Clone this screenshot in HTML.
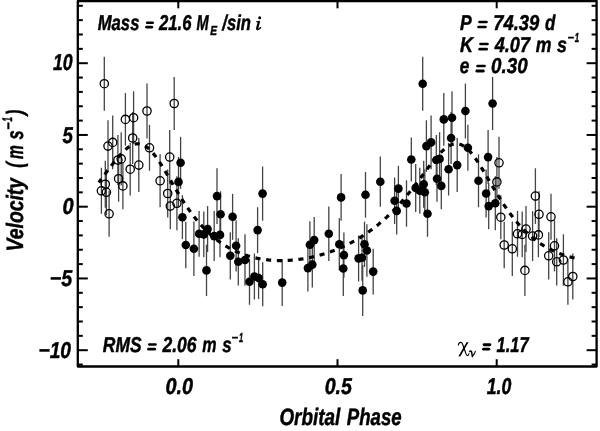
<!DOCTYPE html><html><head><meta charset="utf-8"><style>html,body{margin:0;padding:0;background:#fff;width:600px;height:431px;overflow:hidden}svg{display:block;filter:grayscale(1)}text{text-rendering:geometricPrecision}</style></head><body>
<svg width="600" height="431" viewBox="0 0 600 431">
<rect width="600" height="431" fill="#fff"/>
<g stroke="#444444" stroke-width="1.3">
<line x1="180.6" y1="136.8" x2="180.6" y2="188.8"/>
<line x1="178.5" y1="156.9" x2="178.5" y2="206.9"/>
<line x1="182.4" y1="195.2" x2="182.4" y2="239.2"/>
<line x1="185.8" y1="221.7" x2="185.8" y2="268.3"/>
<line x1="193.9" y1="221.6" x2="193.9" y2="276.0"/>
<line x1="199.1" y1="210.9" x2="199.1" y2="256.7"/>
<line x1="203.8" y1="211.6" x2="203.8" y2="257.2"/>
<line x1="207.6" y1="206.1" x2="207.6" y2="252.1"/>
<line x1="206.5" y1="244.7" x2="206.5" y2="296.1"/>
<line x1="214.2" y1="211.1" x2="214.2" y2="261.1"/>
<line x1="217.0" y1="168.3" x2="217.0" y2="223.9"/>
<line x1="220.6" y1="191.3" x2="220.6" y2="237.3"/>
<line x1="220.0" y1="212.6" x2="220.0" y2="257.2"/>
<line x1="230.3" y1="232.2" x2="230.3" y2="279.4"/>
<line x1="232.6" y1="193.8" x2="232.6" y2="239.8"/>
<line x1="236.1" y1="220.2" x2="236.1" y2="271.4"/>
<line x1="238.3" y1="238.2" x2="238.3" y2="285.4"/>
<line x1="245.0" y1="234.3" x2="245.0" y2="285.7"/>
<line x1="249.5" y1="258.8" x2="249.5" y2="304.8"/>
<line x1="254.4" y1="253.5" x2="254.4" y2="299.5"/>
<line x1="257.6" y1="207.2" x2="257.6" y2="253.0"/>
<line x1="258.6" y1="257.0" x2="258.6" y2="299.0"/>
<line x1="262.6" y1="166.5" x2="262.6" y2="220.7"/>
<line x1="262.7" y1="262.3" x2="262.7" y2="306.3"/>
<line x1="282.2" y1="259.1" x2="282.2" y2="306.1"/>
<line x1="307.9" y1="244.7" x2="307.9" y2="291.5"/>
<line x1="309.9" y1="221.2" x2="309.9" y2="268.4"/>
<line x1="312.3" y1="241.6" x2="312.3" y2="287.6"/>
<line x1="314.2" y1="217.0" x2="314.2" y2="263.2"/>
<line x1="328.8" y1="206.4" x2="328.8" y2="261.0"/>
<line x1="339.3" y1="218.3" x2="339.3" y2="270.3"/>
<line x1="341.1" y1="174.0" x2="341.1" y2="220.8"/>
<line x1="343.3" y1="241.0" x2="343.3" y2="296.0"/>
<line x1="343.9" y1="232.4" x2="343.9" y2="277.8"/>
<line x1="358.6" y1="235.4" x2="358.6" y2="281.4"/>
<line x1="362.0" y1="234.7" x2="362.0" y2="280.7"/>
<line x1="362.7" y1="264.9" x2="362.7" y2="315.9"/>
<line x1="364.5" y1="221.6" x2="364.5" y2="267.0"/>
<line x1="365.5" y1="171.9" x2="365.5" y2="217.7"/>
<line x1="366.9" y1="224.2" x2="366.9" y2="276.8"/>
<line x1="373.2" y1="248.8" x2="373.2" y2="294.4"/>
<line x1="380.3" y1="156.6" x2="380.3" y2="206.8"/>
<line x1="394.6" y1="177.5" x2="394.6" y2="223.9"/>
<line x1="396.7" y1="187.3" x2="396.7" y2="234.5"/>
<line x1="398.4" y1="165.8" x2="398.4" y2="211.4"/>
<line x1="406.5" y1="180.3" x2="406.5" y2="226.7"/>
<line x1="411.3" y1="137.5" x2="411.3" y2="181.5"/>
<line x1="415.7" y1="163.9" x2="415.7" y2="211.9"/>
<line x1="419.8" y1="167.8" x2="419.8" y2="213.8"/>
<line x1="423.7" y1="160.7" x2="423.7" y2="207.7"/>
<line x1="424.8" y1="169.3" x2="424.8" y2="215.3"/>
<line x1="427.5" y1="190.8" x2="427.5" y2="236.8"/>
<line x1="422.7" y1="56.7" x2="422.7" y2="110.7"/>
<line x1="426.4" y1="120.3" x2="426.4" y2="171.9"/>
<line x1="431.1" y1="115.6" x2="431.1" y2="169.2"/>
<line x1="436.3" y1="135.0" x2="436.3" y2="185.0"/>
<line x1="439.6" y1="132.2" x2="439.6" y2="185.6"/>
<line x1="437.0" y1="155.7" x2="437.0" y2="201.7"/>
<line x1="441.3" y1="162.6" x2="441.3" y2="209.2"/>
<line x1="443.8" y1="93.1" x2="443.8" y2="145.7"/>
<line x1="452.0" y1="91.3" x2="452.0" y2="144.1"/>
<line x1="451.1" y1="112.0" x2="451.1" y2="164.0"/>
<line x1="448.6" y1="142.9" x2="448.6" y2="195.5"/>
<line x1="457.2" y1="138.1" x2="457.2" y2="192.1"/>
<line x1="465.4" y1="83.5" x2="465.4" y2="138.5"/>
<line x1="467.9" y1="124.8" x2="467.9" y2="170.8"/>
<line x1="478.5" y1="154.3" x2="478.5" y2="207.3"/>
<line x1="488.1" y1="130.1" x2="488.1" y2="184.1"/>
<line x1="492.6" y1="76.9" x2="492.6" y2="130.1"/>
<line x1="486.1" y1="169.5" x2="486.1" y2="217.5"/>
<line x1="488.7" y1="182.9" x2="488.7" y2="229.3"/>
<line x1="495.3" y1="176.3" x2="495.3" y2="230.3"/>
<line x1="499.0" y1="136.8" x2="499.0" y2="188.8"/>
<line x1="496.9" y1="156.9" x2="496.9" y2="206.9"/>
<line x1="500.8" y1="195.2" x2="500.8" y2="239.2"/>
<line x1="504.2" y1="221.7" x2="504.2" y2="268.3"/>
<line x1="512.3" y1="221.6" x2="512.3" y2="276.0"/>
<line x1="517.5" y1="210.9" x2="517.5" y2="256.7"/>
<line x1="522.2" y1="211.6" x2="522.2" y2="257.2"/>
<line x1="526.0" y1="206.1" x2="526.0" y2="252.1"/>
<line x1="524.9" y1="244.7" x2="524.9" y2="296.1"/>
<line x1="532.6" y1="211.1" x2="532.6" y2="261.1"/>
<line x1="535.4" y1="168.3" x2="535.4" y2="223.9"/>
<line x1="539.0" y1="191.3" x2="539.0" y2="237.3"/>
<line x1="538.4" y1="212.6" x2="538.4" y2="257.2"/>
<line x1="548.7" y1="232.2" x2="548.7" y2="279.4"/>
<line x1="551.0" y1="193.8" x2="551.0" y2="239.8"/>
<line x1="554.5" y1="220.2" x2="554.5" y2="271.4"/>
<line x1="556.7" y1="238.2" x2="556.7" y2="285.4"/>
<line x1="563.4" y1="234.3" x2="563.4" y2="285.7"/>
<line x1="567.9" y1="258.8" x2="567.9" y2="304.8"/>
<line x1="572.8" y1="253.5" x2="572.8" y2="299.5"/>
<line x1="101.4" y1="167.8" x2="101.4" y2="213.8"/>
<line x1="105.3" y1="160.7" x2="105.3" y2="207.7"/>
<line x1="106.4" y1="169.3" x2="106.4" y2="215.3"/>
<line x1="109.1" y1="190.8" x2="109.1" y2="236.8"/>
<line x1="104.3" y1="56.7" x2="104.3" y2="110.7"/>
<line x1="108.0" y1="120.3" x2="108.0" y2="171.9"/>
<line x1="112.7" y1="115.6" x2="112.7" y2="169.2"/>
<line x1="117.9" y1="135.0" x2="117.9" y2="185.0"/>
<line x1="121.2" y1="132.2" x2="121.2" y2="185.6"/>
<line x1="118.6" y1="155.7" x2="118.6" y2="201.7"/>
<line x1="122.9" y1="162.6" x2="122.9" y2="209.2"/>
<line x1="125.4" y1="93.1" x2="125.4" y2="145.7"/>
<line x1="133.6" y1="91.3" x2="133.6" y2="144.1"/>
<line x1="132.7" y1="112.0" x2="132.7" y2="164.0"/>
<line x1="130.2" y1="142.9" x2="130.2" y2="195.5"/>
<line x1="138.8" y1="138.1" x2="138.8" y2="192.1"/>
<line x1="147.0" y1="83.5" x2="147.0" y2="138.5"/>
<line x1="149.5" y1="124.8" x2="149.5" y2="170.8"/>
<line x1="160.1" y1="154.3" x2="160.1" y2="207.3"/>
<line x1="169.7" y1="130.1" x2="169.7" y2="184.1"/>
<line x1="174.2" y1="76.9" x2="174.2" y2="130.1"/>
<line x1="167.7" y1="169.5" x2="167.7" y2="217.5"/>
<line x1="170.3" y1="182.9" x2="170.3" y2="229.3"/>
<line x1="176.9" y1="176.3" x2="176.9" y2="230.3"/>
</g>
<polyline points="98.70,182.54 99.02,182.12 99.34,181.70 99.66,181.28 99.97,180.86 100.29,180.43 100.61,180.01 100.93,179.59 101.25,179.16 101.57,178.74 101.89,178.31 102.20,177.89 102.52,177.46 102.84,177.04 103.16,176.61 103.48,176.19 103.80,175.76 104.12,175.33 104.44,174.90 104.75,174.48 105.07,174.05 105.39,173.62 105.71,173.20 106.03,172.77 106.35,172.34 106.67,171.92 106.98,171.49 107.30,171.07 107.62,170.64 107.94,170.21 108.26,169.79 108.58,169.37 108.90,168.94 109.21,168.52 109.53,168.10 109.85,167.68 110.17,167.26 110.49,166.84 110.81,166.42 111.13,166.00 111.44,165.59 111.76,165.17 112.08,164.76 112.40,164.35 112.72,163.93 113.04,163.53 113.36,163.12 113.67,162.71 113.99,162.31 114.31,161.90 114.63,161.50 114.95,161.10 115.27,160.71 115.59,160.31 115.91,159.92 116.22,159.53 116.54,159.14 116.86,158.76 117.18,158.37 117.50,157.99 117.82,157.62 118.14,157.24 118.45,156.87 118.77,156.50 119.09,156.14 119.41,155.78 119.73,155.42 120.05,155.06 120.37,154.71 120.68,154.36 121.00,154.02 121.32,153.68 121.64,153.34 121.96,153.01 122.28,152.68 122.60,152.35 122.91,152.03 123.23,151.72 123.55,151.41 123.87,151.10 124.19,150.80 124.51,150.50 124.83,150.21 125.14,149.93 125.46,149.64 125.78,149.37 126.10,149.10 126.42,148.83 126.74,148.57 127.06,148.32 127.38,148.07 127.69,147.83 128.01,147.59 128.33,147.36 128.65,147.14 128.97,146.92 129.29,146.71 129.61,146.51 129.92,146.31 130.24,146.12 130.56,145.93 130.88,145.76 131.20,145.59 131.52,145.42 131.84,145.27 132.15,145.12 132.47,144.98 132.79,144.84 133.11,144.72 133.43,144.60 133.75,144.49 134.07,144.38 134.38,144.29 134.70,144.20 135.02,144.12 135.34,144.05 135.66,143.99 135.98,143.93 136.30,143.88 136.61,143.84 136.93,143.81 137.25,143.79 137.57,143.78 137.89,143.77 138.21,143.77 138.53,143.79 138.85,143.81 139.16,143.84 139.48,143.87 139.80,143.92 140.12,143.97 140.44,144.04 140.76,144.11 141.08,144.19 141.39,144.28 141.71,144.38 142.03,144.48 142.35,144.60 142.67,144.72 142.99,144.85 143.31,145.00 143.62,145.15 143.94,145.30 144.26,145.47 144.58,145.65 144.90,145.83 145.22,146.02 145.54,146.22 145.85,146.43 146.17,146.65 146.49,146.88 146.81,147.11 147.13,147.35 147.45,147.60 147.77,147.86 148.08,148.12 148.40,148.40 148.72,148.68 149.04,148.97 149.36,149.26 149.68,149.57 150.00,149.88 150.32,150.20 150.63,150.53 150.95,150.86 151.27,151.20 151.59,151.55 151.91,151.90 152.23,152.26 152.55,152.63 152.86,153.00 153.18,153.38 153.50,153.77 153.82,154.16 154.14,154.56 154.46,154.97 154.78,155.38 155.09,155.79 155.41,156.21 155.73,156.64 156.05,157.07 156.37,157.51 156.69,157.95 157.01,158.40 157.32,158.85 157.64,159.31 157.96,159.77 158.28,160.24 158.60,160.71 158.92,161.18 159.24,161.66 159.55,162.15 159.87,162.63 160.19,163.12 160.51,163.62 160.83,164.11 161.15,164.61 161.47,165.12 161.79,165.62 162.10,166.13 162.42,166.64 162.74,167.16 163.06,167.68 163.38,168.20 163.70,168.72 164.02,169.24 164.33,169.77 164.65,170.30 164.97,170.83 165.29,171.36 165.61,171.89 165.93,172.43 166.25,172.97 166.56,173.50 166.88,174.04 167.20,174.58 167.52,175.12 167.84,175.66 168.16,176.21 168.48,176.75 168.79,177.29 169.11,177.84 169.43,178.38 169.75,178.93 170.07,179.47 170.39,180.02 170.71,180.56 171.03,181.11 171.34,181.65 171.66,182.20 171.98,182.74 172.30,183.29 172.62,183.83 172.94,184.37 173.26,184.92 173.57,185.46 173.89,186.00 174.21,186.54 174.53,187.08 174.85,187.62 175.17,188.16 175.49,188.69 175.80,189.23 176.12,189.76 176.44,190.29 176.76,190.83 177.08,191.36 177.40,191.88 177.72,192.41 178.03,192.94 178.35,193.46 178.67,193.98 178.99,194.50 179.31,195.02 179.63,195.54 179.95,196.06 180.26,196.57 180.58,197.08 180.90,197.59 181.22,198.10 181.54,198.60 181.86,199.11 182.18,199.61 182.50,200.11 182.81,200.61 183.13,201.10 183.45,201.60 183.77,202.09 184.09,202.58 184.41,203.06 184.73,203.55 185.04,204.03 185.36,204.51 185.68,204.99 186.00,205.46 186.32,205.94 186.64,206.41 186.96,206.87 187.27,207.34 187.59,207.80 187.91,208.26 188.23,208.72 188.55,209.18 188.87,209.63 189.19,210.08 189.50,210.53 189.82,210.98 190.14,211.42 190.46,211.86 190.78,212.30 191.10,212.74 191.42,213.17 191.73,213.60 192.05,214.03 192.37,214.46 192.69,214.88 193.01,215.30 193.33,215.72 193.65,216.13 193.97,216.55 194.28,216.96 194.60,217.37 194.92,217.77 195.24,218.17 195.56,218.57 195.88,218.97 196.20,219.37 196.51,219.76 196.83,220.15 197.15,220.54 197.47,220.92 197.79,221.30 198.11,221.68 198.43,222.06 198.74,222.44 199.06,222.81 199.38,223.18 199.70,223.55 200.02,223.91 200.34,224.27 200.66,224.63 200.97,224.99 201.29,225.35 201.61,225.70 201.93,226.05 202.25,226.40 202.57,226.74 202.89,227.09 203.20,227.43 203.52,227.76 203.84,228.10 204.16,228.43 204.48,228.76 204.80,229.09 205.12,229.42 205.44,229.74 205.75,230.06 206.07,230.38 206.39,230.70 206.71,231.01 207.03,231.33 207.35,231.64 207.67,231.94 207.98,232.25 208.30,232.55 208.62,232.85 208.94,233.15 209.26,233.45 209.58,233.74 209.90,234.03 210.21,234.32 210.53,234.61 210.85,234.89 211.17,235.18 211.49,235.46 211.81,235.74 212.13,236.01 212.44,236.29 212.76,236.56 213.08,236.83 213.40,237.10 213.72,237.36 214.04,237.63 214.36,237.89 214.67,238.15 214.99,238.41 215.31,238.66 215.63,238.92 215.95,239.17 216.27,239.42 216.59,239.66 216.91,239.91 217.22,240.15 217.54,240.40 217.86,240.63 218.18,240.87 218.50,241.11 218.82,241.34 219.14,241.57 219.45,241.80 219.77,242.03 220.09,242.26 220.41,242.48 220.73,242.71 221.05,242.93 221.37,243.15 221.68,243.36 222.00,243.58 222.32,243.79 222.64,244.00 222.96,244.21 223.28,244.42 223.60,244.63 223.91,244.83 224.23,245.04 224.55,245.24 224.87,245.44 225.19,245.64 225.51,245.83 225.83,246.03 226.14,246.22 226.46,246.41 226.78,246.60 227.10,246.79 227.42,246.97 227.74,247.16 228.06,247.34 228.38,247.52 228.69,247.70 229.01,247.88 229.33,248.05 229.65,248.23 229.97,248.40 230.29,248.57 230.61,248.74 230.92,248.91 231.24,249.08 231.56,249.25 231.88,249.41 232.20,249.57 232.52,249.73 232.84,249.89 233.15,250.05 233.47,250.21 233.79,250.36 234.11,250.52 234.43,250.67 234.75,250.82 235.07,250.97 235.38,251.12 235.70,251.26 236.02,251.41 236.34,251.55 236.66,251.69 236.98,251.83 237.30,251.97 237.62,252.11 237.93,252.25 238.25,252.38 238.57,252.52 238.89,252.65 239.21,252.78 239.53,252.91 239.85,253.04 240.16,253.17 240.48,253.29 240.80,253.42 241.12,253.54 241.44,253.66 241.76,253.78 242.08,253.90 242.39,254.02 242.71,254.14 243.03,254.25 243.35,254.37 243.67,254.48 243.99,254.59 244.31,254.71 244.62,254.82 244.94,254.92 245.26,255.03 245.58,255.14 245.90,255.24 246.22,255.35 246.54,255.45 246.85,255.55 247.17,255.65 247.49,255.75 247.81,255.85 248.13,255.94 248.45,256.04 248.77,256.13 249.09,256.23 249.40,256.32 249.72,256.41 250.04,256.50 250.36,256.59 250.68,256.67 251.00,256.76 251.32,256.85 251.63,256.93 251.95,257.01 252.27,257.10 252.59,257.18 252.91,257.26 253.23,257.34 253.55,257.41 253.86,257.49 254.18,257.57 254.50,257.64 254.82,257.71 255.14,257.79 255.46,257.86 255.78,257.93 256.09,258.00 256.41,258.07 256.73,258.14 257.05,258.20 257.37,258.27 257.69,258.33 258.01,258.39 258.32,258.46 258.64,258.52 258.96,258.58 259.28,258.64 259.60,258.70 259.92,258.76 260.24,258.81 260.56,258.87 260.87,258.92 261.19,258.98 261.51,259.03 261.83,259.08 262.15,259.13 262.47,259.18 262.79,259.23 263.10,259.28 263.42,259.33 263.74,259.37 264.06,259.42 264.38,259.46 264.70,259.51 265.02,259.55 265.33,259.59 265.65,259.63 265.97,259.67 266.29,259.71 266.61,259.75 266.93,259.78 267.25,259.82 267.56,259.86 267.88,259.89 268.20,259.92 268.52,259.96 268.84,259.99 269.16,260.02 269.48,260.05 269.79,260.08 270.11,260.11 270.43,260.13 270.75,260.16 271.07,260.19 271.39,260.21 271.71,260.24 272.03,260.26 272.34,260.28 272.66,260.30 272.98,260.32 273.30,260.34 273.62,260.36 273.94,260.38 274.26,260.40 274.57,260.42 274.89,260.43 275.21,260.45 275.53,260.46 275.85,260.48 276.17,260.49 276.49,260.50 276.80,260.51 277.12,260.52 277.44,260.53 277.76,260.54 278.08,260.55 278.40,260.55 278.72,260.56 279.03,260.56 279.35,260.57 279.67,260.57 279.99,260.58 280.31,260.58 280.63,260.58 280.95,260.58 281.26,260.58 281.58,260.58 281.90,260.58 282.22,260.58 282.54,260.57 282.86,260.57 283.18,260.56 283.50,260.56 283.81,260.55 284.13,260.54 284.45,260.54 284.77,260.53 285.09,260.52 285.41,260.51 285.73,260.50 286.04,260.49 286.36,260.47 286.68,260.46 287.00,260.45 287.32,260.43 287.64,260.42 287.96,260.40 288.27,260.38 288.59,260.37 288.91,260.35 289.23,260.33 289.55,260.31 289.87,260.29 290.19,260.27 290.50,260.25 290.82,260.22 291.14,260.20 291.46,260.18 291.78,260.15 292.10,260.13 292.42,260.10 292.73,260.07 293.05,260.04 293.37,260.02 293.69,259.99 294.01,259.96 294.33,259.93 294.65,259.89 294.97,259.86 295.28,259.83 295.60,259.80 295.92,259.76 296.24,259.73 296.56,259.69 296.88,259.65 297.20,259.62 297.51,259.58 297.83,259.54 298.15,259.50 298.47,259.46 298.79,259.42 299.11,259.38 299.43,259.34 299.74,259.29 300.06,259.25 300.38,259.20 300.70,259.16 301.02,259.11 301.34,259.07 301.66,259.02 301.97,258.97 302.29,258.92 302.61,258.87 302.93,258.82 303.25,258.77 303.57,258.72 303.89,258.67 304.21,258.62 304.52,258.56 304.84,258.51 305.16,258.45 305.48,258.40 305.80,258.34 306.12,258.28 306.44,258.23 306.75,258.17 307.07,258.11 307.39,258.05 307.71,257.99 308.03,257.92 308.35,257.86 308.67,257.80 308.98,257.74 309.30,257.67 309.62,257.61 309.94,257.54 310.26,257.47 310.58,257.41 310.90,257.34 311.21,257.27 311.53,257.20 311.85,257.13 312.17,257.06 312.49,256.99 312.81,256.92 313.13,256.84 313.44,256.77 313.76,256.70 314.08,256.62 314.40,256.55 314.72,256.47 315.04,256.39 315.36,256.31 315.68,256.23 315.99,256.16 316.31,256.08 316.63,255.99 316.95,255.91 317.27,255.83 317.59,255.75 317.91,255.66 318.22,255.58 318.54,255.49 318.86,255.41 319.18,255.32 319.50,255.23 319.82,255.15 320.14,255.06 320.45,254.97 320.77,254.88 321.09,254.79 321.41,254.69 321.73,254.60 322.05,254.51 322.37,254.41 322.68,254.32 323.00,254.22 323.32,254.13 323.64,254.03 323.96,253.93 324.28,253.83 324.60,253.73 324.91,253.63 325.23,253.53 325.55,253.43 325.87,253.33 326.19,253.23 326.51,253.12 326.83,253.02 327.15,252.91 327.46,252.81 327.78,252.70 328.10,252.59 328.42,252.48 328.74,252.38 329.06,252.27 329.38,252.15 329.69,252.04 330.01,251.93 330.33,251.82 330.65,251.70 330.97,251.59 331.29,251.47 331.61,251.36 331.92,251.24 332.24,251.12 332.56,251.01 332.88,250.89 333.20,250.77 333.52,250.65 333.84,250.52 334.15,250.40 334.47,250.28 334.79,250.15 335.11,250.03 335.43,249.90 335.75,249.78 336.07,249.65 336.38,249.52 336.70,249.39 337.02,249.26 337.34,249.13 337.66,249.00 337.98,248.87 338.30,248.74 338.62,248.60 338.93,248.47 339.25,248.33 339.57,248.20 339.89,248.06 340.21,247.92 340.53,247.78 340.85,247.64 341.16,247.50 341.48,247.36 341.80,247.22 342.12,247.07 342.44,246.93 342.76,246.79 343.08,246.64 343.39,246.49 343.71,246.35 344.03,246.20 344.35,246.05 344.67,245.90 344.99,245.75 345.31,245.60 345.62,245.44 345.94,245.29 346.26,245.14 346.58,244.98 346.90,244.82 347.22,244.67 347.54,244.51 347.85,244.35 348.17,244.19 348.49,244.03 348.81,243.87 349.13,243.71 349.45,243.54 349.77,243.38 350.09,243.21 350.40,243.05 350.72,242.88 351.04,242.71 351.36,242.54 351.68,242.37 352.00,242.20 352.32,242.03 352.63,241.86 352.95,241.68 353.27,241.51 353.59,241.33 353.91,241.16 354.23,240.98 354.55,240.80 354.86,240.62 355.18,240.44 355.50,240.26 355.82,240.08 356.14,239.89 356.46,239.71 356.78,239.52 357.09,239.34 357.41,239.15 357.73,238.96 358.05,238.77 358.37,238.58 358.69,238.39 359.01,238.20 359.32,238.00 359.64,237.81 359.96,237.61 360.28,237.42 360.60,237.22 360.92,237.02 361.24,236.82 361.56,236.62 361.87,236.42 362.19,236.22 362.51,236.01 362.83,235.81 363.15,235.60 363.47,235.39 363.79,235.19 364.10,234.98 364.42,234.77 364.74,234.56 365.06,234.34 365.38,234.13 365.70,233.91 366.02,233.70 366.33,233.48 366.65,233.26 366.97,233.04 367.29,232.82 367.61,232.60 367.93,232.38 368.25,232.16 368.56,231.93 368.88,231.71 369.20,231.48 369.52,231.25 369.84,231.02 370.16,230.79 370.48,230.56 370.79,230.33 371.11,230.09 371.43,229.86 371.75,229.62 372.07,229.38 372.39,229.14 372.71,228.91 373.03,228.66 373.34,228.42 373.66,228.18 373.98,227.93 374.30,227.69 374.62,227.44 374.94,227.19 375.26,226.94 375.57,226.69 375.89,226.44 376.21,226.19 376.53,225.93 376.85,225.68 377.17,225.42 377.49,225.16 377.80,224.90 378.12,224.64 378.44,224.38 378.76,224.11 379.08,223.85 379.40,223.58 379.72,223.32 380.03,223.05 380.35,222.78 380.67,222.51 380.99,222.24 381.31,221.96 381.63,221.69 381.95,221.41 382.27,221.13 382.58,220.85 382.90,220.57 383.22,220.29 383.54,220.01 383.86,219.72 384.18,219.44 384.50,219.15 384.81,218.86 385.13,218.57 385.45,218.28 385.77,217.99 386.09,217.70 386.41,217.40 386.73,217.11 387.04,216.81 387.36,216.51 387.68,216.21 388.00,215.91 388.32,215.60 388.64,215.30 388.96,214.99 389.27,214.68 389.59,214.38 389.91,214.07 390.23,213.75 390.55,213.44 390.87,213.13 391.19,212.81 391.50,212.49 391.82,212.17 392.14,211.85 392.46,211.53 392.78,211.21 393.10,210.88 393.42,210.56 393.74,210.23 394.05,209.90 394.37,209.57 394.69,209.24 395.01,208.91 395.33,208.57 395.65,208.24 395.97,207.90 396.28,207.56 396.60,207.22 396.92,206.88 397.24,206.54 397.56,206.19 397.88,205.85 398.20,205.50 398.51,205.15 398.83,204.80 399.15,204.45 399.47,204.10 399.79,203.74 400.11,203.39 400.43,203.03 400.74,202.67 401.06,202.31 401.38,201.95 401.70,201.59 402.02,201.22 402.34,200.86 402.66,200.49 402.97,200.12 403.29,199.75 403.61,199.38 403.93,199.01 404.25,198.64 404.57,198.26 404.89,197.88 405.21,197.51 405.52,197.13 405.84,196.75 406.16,196.36 406.48,195.98 406.80,195.60 407.12,195.21 407.44,194.82 407.75,194.44 408.07,194.05 408.39,193.65 408.71,193.26 409.03,192.87 409.35,192.47 409.67,192.08 409.98,191.68 410.30,191.28 410.62,190.88 410.94,190.48 411.26,190.08 411.58,189.68 411.90,189.28 412.21,188.87 412.53,188.46 412.85,188.06 413.17,187.65 413.49,187.24 413.81,186.83 414.13,186.42 414.44,186.01 414.76,185.59 415.08,185.18 415.40,184.77 415.72,184.35 416.04,183.93 416.36,183.52 416.68,183.10 416.99,182.68 417.31,182.26 417.63,181.84 417.95,181.42 418.27,181.00 418.59,180.58 418.91,180.15 419.22,179.73 419.54,179.31 419.86,178.88 420.18,178.46 420.50,178.03 420.82,177.61 421.14,177.18 421.45,176.75 421.77,176.33 422.09,175.90 422.41,175.47 422.73,175.05 423.05,174.62 423.37,174.19 423.68,173.77 424.00,173.34 424.32,172.91 424.64,172.49 424.96,172.06 425.28,171.63 425.60,171.21 425.91,170.78 426.23,170.36 426.55,169.93 426.87,169.51 427.19,169.08 427.51,168.66 427.83,168.24 428.15,167.82 428.46,167.40 428.78,166.98 429.10,166.56 429.42,166.14 429.74,165.72 430.06,165.31 430.38,164.90 430.69,164.48 431.01,164.07 431.33,163.66 431.65,163.25 431.97,162.85 432.29,162.44 432.61,162.04 432.92,161.64 433.24,161.24 433.56,160.84 433.88,160.44 434.20,160.05 434.52,159.66 434.84,159.27 435.15,158.89 435.47,158.50 435.79,158.12 436.11,157.74 436.43,157.37 436.75,157.00 437.07,156.63 437.38,156.26 437.70,155.90 438.02,155.54 438.34,155.18 438.66,154.83 438.98,154.48 439.30,154.13 439.62,153.79 439.93,153.45 440.25,153.12 440.57,152.79 440.89,152.46 441.21,152.14 441.53,151.82 441.85,151.51 442.16,151.20 442.48,150.90 442.80,150.60 443.12,150.31 443.44,150.02 443.76,149.74 444.08,149.46 444.39,149.19 444.71,148.92 445.03,148.66 445.35,148.40 445.67,148.15 445.99,147.91 446.31,147.67 446.62,147.44 446.94,147.21 447.26,146.99 447.58,146.78 447.90,146.57 448.22,146.37 448.54,146.18 448.86,145.99 449.17,145.82 449.49,145.64 449.81,145.48 450.13,145.32 450.45,145.17 450.77,145.02 451.09,144.89 451.40,144.76 451.72,144.64 452.04,144.52 452.36,144.42 452.68,144.32 453.00,144.23 453.32,144.15 453.63,144.07 453.95,144.01 454.27,143.95 454.59,143.90 454.91,143.86 455.23,143.82 455.55,143.80 455.86,143.78 456.18,143.77 456.50,143.77 456.82,143.78 457.14,143.80 457.46,143.82 457.78,143.86 458.09,143.90 458.41,143.95 458.73,144.01 459.05,144.08 459.37,144.16 459.69,144.25 460.01,144.34 460.33,144.45 460.64,144.56 460.96,144.68 461.28,144.81 461.60,144.95 461.92,145.09 462.24,145.25 462.56,145.41 462.87,145.59 463.19,145.77 463.51,145.96 463.83,146.16 464.15,146.36 464.47,146.58 464.79,146.80 465.10,147.03 465.42,147.27 465.74,147.52 466.06,147.77 466.38,148.03 466.70,148.31 467.02,148.58 467.33,148.87 467.65,149.17 467.97,149.47 468.29,149.78 468.61,150.09 468.93,150.42 469.25,150.75 469.56,151.08 469.88,151.43 470.20,151.78 470.52,152.14 470.84,152.51 471.16,152.88 471.48,153.26 471.80,153.64 472.11,154.03 472.43,154.43 472.75,154.83 473.07,155.24 473.39,155.65 473.71,156.07 474.03,156.50 474.34,156.93 474.66,157.36 474.98,157.81 475.30,158.25 475.62,158.70 475.94,159.16 476.26,159.62 476.57,160.08 476.89,160.55 477.21,161.03 477.53,161.50 477.85,161.98 478.17,162.47 478.49,162.96 478.80,163.45 479.12,163.95 479.44,164.45 479.76,164.95 480.08,165.45 480.40,165.96 480.72,166.47 481.03,166.99 481.35,167.50 481.67,168.02 481.99,168.54 482.31,169.07 482.63,169.59 482.95,170.12 483.27,170.65 483.58,171.18 483.90,171.72 484.22,172.25 484.54,172.79 484.86,173.32 485.18,173.86 485.50,174.40 485.81,174.94 486.13,175.48 486.45,176.03 486.77,176.57 487.09,177.11 487.41,177.66 487.73,178.20 488.04,178.75 488.36,179.29 488.68,179.84 489.00,180.38 489.32,180.93 489.64,181.47 489.96,182.02 490.27,182.56 490.59,183.11 490.91,183.65 491.23,184.19 491.55,184.74 491.87,185.28 492.19,185.82 492.50,186.36 492.82,186.90 493.14,187.44 493.46,187.98 493.78,188.51 494.10,189.05 494.42,189.58 494.74,190.12 495.05,190.65 495.37,191.18 495.69,191.71 496.01,192.24 496.33,192.76 496.65,193.29 496.97,193.81 497.28,194.33 497.60,194.85 497.92,195.37 498.24,195.88 498.56,196.40 498.88,196.91 499.20,197.42 499.51,197.93 499.83,198.44 500.15,198.94 500.47,199.44 500.79,199.94 501.11,200.44 501.43,200.94 501.74,201.43 502.06,201.92 502.38,202.41 502.70,202.90 503.02,203.39 503.34,203.87 503.66,204.35 503.97,204.83 504.29,205.30 504.61,205.78 504.93,206.25 505.25,206.72 505.57,207.19 505.89,207.65 506.21,208.11 506.52,208.57 506.84,209.03 507.16,209.48 507.48,209.93 507.80,210.38 508.12,210.83 508.44,211.27 508.75,211.72 509.07,212.16 509.39,212.59 509.71,213.03 510.03,213.46 510.35,213.89 510.67,214.31 510.98,214.74 511.30,215.16 511.62,215.58 511.94,216.00 512.26,216.41 512.58,216.82 512.90,217.23 513.21,217.64 513.53,218.04 513.85,218.44 514.17,218.84 514.49,219.24 514.81,219.63 515.13,220.02 515.45,220.41 515.76,220.79 516.08,221.18 516.40,221.56 516.72,221.94 517.04,222.31 517.36,222.69 517.68,223.06 517.99,223.42 518.31,223.79 518.63,224.15 518.95,224.51 519.27,224.87 519.59,225.23 519.91,225.58 520.22,225.93 520.54,226.28 520.86,226.63 521.18,226.97 521.50,227.31 521.82,227.65 522.14,227.99 522.45,228.32 522.77,228.65 523.09,228.98 523.41,229.31 523.73,229.63 524.05,229.96 524.37,230.28 524.68,230.59 525.00,230.91 525.32,231.22 525.64,231.53 525.96,231.84 526.28,232.15 526.60,232.45 526.92,232.75 527.23,233.05 527.55,233.35 527.87,233.64 528.19,233.93 528.51,234.22 528.83,234.51 529.15,234.80 529.46,235.08 529.78,235.36 530.10,235.64 530.42,235.92 530.74,236.20 531.06,236.47 531.38,236.74 531.69,237.01 532.01,237.27 532.33,237.54 532.65,237.80 532.97,238.06 533.29,238.32 533.61,238.58 533.92,238.83 534.24,239.08 534.56,239.33 534.88,239.58 535.20,239.83 535.52,240.07 535.84,240.31 536.15,240.56 536.47,240.79 536.79,241.03 537.11,241.26 537.43,241.50 537.75,241.73 538.07,241.96 538.39,242.18 538.70,242.41 539.02,242.63 539.34,242.85 539.66,243.07 539.98,243.29 540.30,243.51 540.62,243.72 540.93,243.93 541.25,244.14 541.57,244.35 541.89,244.56 542.21,244.77 542.53,244.97 542.85,245.17 543.16,245.37 543.48,245.57 543.80,245.77 544.12,245.96 544.44,246.15 544.76,246.35 545.08,246.54 545.39,246.72 545.71,246.91 546.03,247.10 546.35,247.28 546.67,247.46 546.99,247.64 547.31,247.82 547.62,248.00 547.94,248.17 548.26,248.35 548.58,248.52 548.90,248.69 549.22,248.86 549.54,249.02 549.86,249.19 550.17,249.36 550.49,249.52 550.81,249.68 551.13,249.84 551.45,250.00 551.77,250.16 552.09,250.31 552.40,250.46 552.72,250.62 553.04,250.77 553.36,250.92 553.68,251.07 554.00,251.21 554.32,251.36 554.63,251.50 554.95,251.65 555.27,251.79 555.59,251.93 555.91,252.07 556.23,252.20 556.55,252.34 556.86,252.47 557.18,252.61 557.50,252.74 557.82,252.87 558.14,253.00 558.46,253.12 558.78,253.25 559.09,253.38 559.41,253.50 559.73,253.62 560.05,253.74 560.37,253.86 560.69,253.98 561.01,254.10 561.33,254.22 561.64,254.33 561.96,254.44 562.28,254.56 562.60,254.67 562.92,254.78 563.24,254.89 563.56,255.00 563.87,255.10 564.19,255.21 564.51,255.31 564.83,255.41 565.15,255.52 565.47,255.62 565.79,255.72 566.10,255.81 566.42,255.91 566.74,256.01 567.06,256.10 567.38,256.19 567.70,256.29 568.02,256.38 568.33,256.47 568.65,256.56 568.97,256.65 569.29,256.73 569.61,256.82 569.93,256.90 570.25,256.99 570.56,257.07 570.88,257.15 571.20,257.23 571.52,257.31 571.84,257.39 572.16,257.47 572.48,257.54 572.80,257.62 573.11,257.69 573.43,257.76 573.75,257.84 574.07,257.91 574.39,257.98 574.71,258.04 575.03,258.11 575.34,258.18 575.66,258.25 575.98,258.31 576.30,258.37" fill="none" stroke="#000" stroke-width="3.2" stroke-dasharray="5.1 5.705" stroke-dashoffset="0.78"/>
<g fill="none" stroke="#000" stroke-width="1.3">
<circle cx="499.0" cy="162.8" r="4.15"/>
<circle cx="496.9" cy="181.9" r="4.15"/>
<circle cx="500.8" cy="217.2" r="4.15"/>
<circle cx="504.2" cy="245.0" r="4.15"/>
<circle cx="512.3" cy="248.8" r="4.15"/>
<circle cx="517.5" cy="233.8" r="4.15"/>
<circle cx="522.2" cy="234.4" r="4.15"/>
<circle cx="526.0" cy="229.1" r="4.15"/>
<circle cx="524.9" cy="270.4" r="4.15"/>
<circle cx="532.6" cy="236.1" r="4.15"/>
<circle cx="535.4" cy="196.1" r="4.15"/>
<circle cx="539.0" cy="214.3" r="4.15"/>
<circle cx="538.4" cy="234.9" r="4.15"/>
<circle cx="548.7" cy="255.8" r="4.15"/>
<circle cx="551.0" cy="216.8" r="4.15"/>
<circle cx="554.5" cy="245.8" r="4.15"/>
<circle cx="556.7" cy="261.8" r="4.15"/>
<circle cx="563.4" cy="260.0" r="4.15"/>
<circle cx="567.9" cy="281.8" r="4.15"/>
<circle cx="572.8" cy="276.5" r="4.15"/>
<circle cx="101.4" cy="190.8" r="4.15"/>
<circle cx="105.3" cy="184.2" r="4.15"/>
<circle cx="106.4" cy="192.3" r="4.15"/>
<circle cx="109.1" cy="213.8" r="4.15"/>
<circle cx="104.3" cy="83.7" r="4.15"/>
<circle cx="108.0" cy="146.1" r="4.15"/>
<circle cx="112.7" cy="142.4" r="4.15"/>
<circle cx="117.9" cy="160.0" r="4.15"/>
<circle cx="121.2" cy="158.9" r="4.15"/>
<circle cx="118.6" cy="178.7" r="4.15"/>
<circle cx="122.9" cy="185.9" r="4.15"/>
<circle cx="125.4" cy="119.4" r="4.15"/>
<circle cx="133.6" cy="117.7" r="4.15"/>
<circle cx="132.7" cy="138.0" r="4.15"/>
<circle cx="130.2" cy="169.2" r="4.15"/>
<circle cx="138.8" cy="165.1" r="4.15"/>
<circle cx="147.0" cy="111.0" r="4.15"/>
<circle cx="149.5" cy="147.8" r="4.15"/>
<circle cx="160.1" cy="180.8" r="4.15"/>
<circle cx="169.7" cy="157.1" r="4.15"/>
<circle cx="174.2" cy="103.5" r="4.15"/>
<circle cx="167.7" cy="193.5" r="4.15"/>
<circle cx="170.3" cy="206.1" r="4.15"/>
<circle cx="176.9" cy="203.3" r="4.15"/>
</g>
<g fill="#000">
<circle cx="180.6" cy="162.8" r="4.3"/>
<circle cx="178.5" cy="181.9" r="4.3"/>
<circle cx="182.4" cy="217.2" r="4.3"/>
<circle cx="185.8" cy="245.0" r="4.3"/>
<circle cx="193.9" cy="248.8" r="4.3"/>
<circle cx="199.1" cy="233.8" r="4.3"/>
<circle cx="203.8" cy="234.4" r="4.3"/>
<circle cx="207.6" cy="229.1" r="4.3"/>
<circle cx="206.5" cy="270.4" r="4.3"/>
<circle cx="214.2" cy="236.1" r="4.3"/>
<circle cx="217.0" cy="196.1" r="4.3"/>
<circle cx="220.6" cy="214.3" r="4.3"/>
<circle cx="220.0" cy="234.9" r="4.3"/>
<circle cx="230.3" cy="255.8" r="4.3"/>
<circle cx="232.6" cy="216.8" r="4.3"/>
<circle cx="236.1" cy="245.8" r="4.3"/>
<circle cx="238.3" cy="261.8" r="4.3"/>
<circle cx="245.0" cy="260.0" r="4.3"/>
<circle cx="249.5" cy="281.8" r="4.3"/>
<circle cx="254.4" cy="276.5" r="4.3"/>
<circle cx="257.6" cy="230.1" r="4.3"/>
<circle cx="258.6" cy="278.0" r="4.3"/>
<circle cx="262.6" cy="193.6" r="4.3"/>
<circle cx="262.7" cy="284.3" r="4.3"/>
<circle cx="282.2" cy="282.6" r="4.3"/>
<circle cx="307.9" cy="268.1" r="4.3"/>
<circle cx="309.9" cy="244.8" r="4.3"/>
<circle cx="312.3" cy="264.6" r="4.3"/>
<circle cx="314.2" cy="240.1" r="4.3"/>
<circle cx="328.8" cy="233.7" r="4.3"/>
<circle cx="339.3" cy="244.3" r="4.3"/>
<circle cx="341.1" cy="197.4" r="4.3"/>
<circle cx="343.3" cy="268.5" r="4.3"/>
<circle cx="343.9" cy="255.1" r="4.3"/>
<circle cx="358.6" cy="258.4" r="4.3"/>
<circle cx="362.0" cy="257.7" r="4.3"/>
<circle cx="362.7" cy="290.4" r="4.3"/>
<circle cx="364.5" cy="244.3" r="4.3"/>
<circle cx="365.5" cy="194.8" r="4.3"/>
<circle cx="366.9" cy="250.5" r="4.3"/>
<circle cx="373.2" cy="271.6" r="4.3"/>
<circle cx="380.3" cy="181.7" r="4.3"/>
<circle cx="394.6" cy="200.7" r="4.3"/>
<circle cx="396.7" cy="210.9" r="4.3"/>
<circle cx="398.4" cy="188.6" r="4.3"/>
<circle cx="406.5" cy="203.5" r="4.3"/>
<circle cx="411.3" cy="159.5" r="4.3"/>
<circle cx="415.7" cy="187.9" r="4.3"/>
<circle cx="419.8" cy="190.8" r="4.3"/>
<circle cx="423.7" cy="184.2" r="4.3"/>
<circle cx="424.8" cy="192.3" r="4.3"/>
<circle cx="427.5" cy="213.8" r="4.3"/>
<circle cx="422.7" cy="83.7" r="4.3"/>
<circle cx="426.4" cy="146.1" r="4.3"/>
<circle cx="431.1" cy="142.4" r="4.3"/>
<circle cx="436.3" cy="160.0" r="4.3"/>
<circle cx="439.6" cy="158.9" r="4.3"/>
<circle cx="437.0" cy="178.7" r="4.3"/>
<circle cx="441.3" cy="185.9" r="4.3"/>
<circle cx="443.8" cy="119.4" r="4.3"/>
<circle cx="452.0" cy="117.7" r="4.3"/>
<circle cx="451.1" cy="138.0" r="4.3"/>
<circle cx="448.6" cy="169.2" r="4.3"/>
<circle cx="457.2" cy="165.1" r="4.3"/>
<circle cx="465.4" cy="111.0" r="4.3"/>
<circle cx="467.9" cy="147.8" r="4.3"/>
<circle cx="478.5" cy="180.8" r="4.3"/>
<circle cx="488.1" cy="157.1" r="4.3"/>
<circle cx="492.6" cy="103.5" r="4.3"/>
<circle cx="486.1" cy="193.5" r="4.3"/>
<circle cx="488.7" cy="206.1" r="4.3"/>
<circle cx="495.3" cy="203.3" r="4.3"/>
</g>
<path d="M77.8,1.0 H596.6 V366.5 H77.8 Z" stroke="#000" stroke-width="2.3" fill="none" stroke-linejoin="round"/>
<g stroke="#000" stroke-width="2" fill="none" stroke-linecap="square">
<line x1="77.8" y1="364.55" x2="82.8" y2="364.55" stroke-linecap="butt"/>
<line x1="596.6" y1="364.55" x2="591.6" y2="364.55" stroke-linecap="butt"/>
<line x1="77.8" y1="350.20" x2="87.8" y2="350.20" stroke-linecap="butt"/>
<line x1="596.6" y1="350.20" x2="586.6" y2="350.20" stroke-linecap="butt"/>
<line x1="77.8" y1="335.85" x2="82.8" y2="335.85" stroke-linecap="butt"/>
<line x1="596.6" y1="335.85" x2="591.6" y2="335.85" stroke-linecap="butt"/>
<line x1="77.8" y1="321.50" x2="82.8" y2="321.50" stroke-linecap="butt"/>
<line x1="596.6" y1="321.50" x2="591.6" y2="321.50" stroke-linecap="butt"/>
<line x1="77.8" y1="307.15" x2="82.8" y2="307.15" stroke-linecap="butt"/>
<line x1="596.6" y1="307.15" x2="591.6" y2="307.15" stroke-linecap="butt"/>
<line x1="77.8" y1="292.80" x2="82.8" y2="292.80" stroke-linecap="butt"/>
<line x1="596.6" y1="292.80" x2="591.6" y2="292.80" stroke-linecap="butt"/>
<line x1="77.8" y1="278.45" x2="87.8" y2="278.45" stroke-linecap="butt"/>
<line x1="596.6" y1="278.45" x2="586.6" y2="278.45" stroke-linecap="butt"/>
<line x1="77.8" y1="264.10" x2="82.8" y2="264.10" stroke-linecap="butt"/>
<line x1="596.6" y1="264.10" x2="591.6" y2="264.10" stroke-linecap="butt"/>
<line x1="77.8" y1="249.75" x2="82.8" y2="249.75" stroke-linecap="butt"/>
<line x1="596.6" y1="249.75" x2="591.6" y2="249.75" stroke-linecap="butt"/>
<line x1="77.8" y1="235.40" x2="82.8" y2="235.40" stroke-linecap="butt"/>
<line x1="596.6" y1="235.40" x2="591.6" y2="235.40" stroke-linecap="butt"/>
<line x1="77.8" y1="221.05" x2="82.8" y2="221.05" stroke-linecap="butt"/>
<line x1="596.6" y1="221.05" x2="591.6" y2="221.05" stroke-linecap="butt"/>
<line x1="77.8" y1="206.70" x2="87.8" y2="206.70" stroke-linecap="butt"/>
<line x1="596.6" y1="206.70" x2="586.6" y2="206.70" stroke-linecap="butt"/>
<line x1="77.8" y1="192.35" x2="82.8" y2="192.35" stroke-linecap="butt"/>
<line x1="596.6" y1="192.35" x2="591.6" y2="192.35" stroke-linecap="butt"/>
<line x1="77.8" y1="178.00" x2="82.8" y2="178.00" stroke-linecap="butt"/>
<line x1="596.6" y1="178.00" x2="591.6" y2="178.00" stroke-linecap="butt"/>
<line x1="77.8" y1="163.65" x2="82.8" y2="163.65" stroke-linecap="butt"/>
<line x1="596.6" y1="163.65" x2="591.6" y2="163.65" stroke-linecap="butt"/>
<line x1="77.8" y1="149.30" x2="82.8" y2="149.30" stroke-linecap="butt"/>
<line x1="596.6" y1="149.30" x2="591.6" y2="149.30" stroke-linecap="butt"/>
<line x1="77.8" y1="134.95" x2="87.8" y2="134.95" stroke-linecap="butt"/>
<line x1="596.6" y1="134.95" x2="586.6" y2="134.95" stroke-linecap="butt"/>
<line x1="77.8" y1="120.60" x2="82.8" y2="120.60" stroke-linecap="butt"/>
<line x1="596.6" y1="120.60" x2="591.6" y2="120.60" stroke-linecap="butt"/>
<line x1="77.8" y1="106.25" x2="82.8" y2="106.25" stroke-linecap="butt"/>
<line x1="596.6" y1="106.25" x2="591.6" y2="106.25" stroke-linecap="butt"/>
<line x1="77.8" y1="91.90" x2="82.8" y2="91.90" stroke-linecap="butt"/>
<line x1="596.6" y1="91.90" x2="591.6" y2="91.90" stroke-linecap="butt"/>
<line x1="77.8" y1="77.55" x2="82.8" y2="77.55" stroke-linecap="butt"/>
<line x1="596.6" y1="77.55" x2="591.6" y2="77.55" stroke-linecap="butt"/>
<line x1="77.8" y1="63.20" x2="87.8" y2="63.20" stroke-linecap="butt"/>
<line x1="596.6" y1="63.20" x2="586.6" y2="63.20" stroke-linecap="butt"/>
<line x1="77.8" y1="48.85" x2="82.8" y2="48.85" stroke-linecap="butt"/>
<line x1="596.6" y1="48.85" x2="591.6" y2="48.85" stroke-linecap="butt"/>
<line x1="77.8" y1="34.50" x2="82.8" y2="34.50" stroke-linecap="butt"/>
<line x1="596.6" y1="34.50" x2="591.6" y2="34.50" stroke-linecap="butt"/>
<line x1="77.8" y1="20.15" x2="82.8" y2="20.15" stroke-linecap="butt"/>
<line x1="596.6" y1="20.15" x2="591.6" y2="20.15" stroke-linecap="butt"/>
<line x1="77.8" y1="5.80" x2="82.8" y2="5.80" stroke-linecap="butt"/>
<line x1="596.6" y1="5.80" x2="591.6" y2="5.80" stroke-linecap="butt"/>
<line x1="178.30" y1="366.5" x2="178.30" y2="359.2" stroke-linecap="butt"/>
<line x1="178.30" y1="1.0" x2="178.30" y2="8.3" stroke-linecap="butt"/>
<line x1="337.50" y1="366.5" x2="337.50" y2="359.2" stroke-linecap="butt"/>
<line x1="337.50" y1="1.0" x2="337.50" y2="8.3" stroke-linecap="butt"/>
<line x1="496.70" y1="366.5" x2="496.70" y2="359.2" stroke-linecap="butt"/>
<line x1="496.70" y1="1.0" x2="496.70" y2="8.3" stroke-linecap="butt"/>
</g>
<g fill="#000">
<text transform="translate(97.71 30.00) scale(0.7791 1)" font-family="Liberation Sans" font-weight="bold" font-style="italic" font-size="21.4" stroke="#000" stroke-width="0.45">Mass</text>
<text transform="translate(158.99 30.00) scale(0.7812 1)" font-family="Liberation Sans" font-weight="bold" font-style="italic" font-size="21.4" stroke="#000" stroke-width="0.45">21.6</text>
<text transform="translate(196.53 30.00) scale(0.6849 1)" font-family="Liberation Sans" font-weight="bold" font-style="italic" font-size="21.4" stroke="#000" stroke-width="0.45">M</text>
<text transform="translate(210.30 35.00) scale(0.7784 1)" font-family="Liberation Sans" font-weight="bold" font-style="italic" font-size="13" stroke="#000" stroke-width="0.45">E</text>
<text transform="translate(222.28 30.00) scale(0.7785 1)" font-family="Liberation Sans" font-weight="bold" font-style="italic" font-size="21.4" stroke="#000" stroke-width="0.45">/sin</text>
<text transform="translate(459.90 30.40) scale(0.8200 1)" font-family="Liberation Sans" font-weight="bold" font-style="italic" font-size="21.4" stroke="#000" stroke-width="0.45">P</text>
<text transform="translate(493.22 30.40) scale(0.8610 1)" font-family="Liberation Sans" font-weight="bold" font-style="italic" font-size="21.4" stroke="#000" stroke-width="0.45">74.39</text>
<text transform="translate(545.10 30.40) scale(0.7925 1)" font-family="Liberation Sans" font-weight="bold" font-style="italic" font-size="21.4" stroke="#000" stroke-width="0.45">d</text>
<text transform="translate(460.09 51.80) scale(0.8471 1)" font-family="Liberation Sans" font-weight="bold" font-style="italic" font-size="21.4" stroke="#000" stroke-width="0.45">K</text>
<text transform="translate(494.72 51.80) scale(0.8486 1)" font-family="Liberation Sans" font-weight="bold" font-style="italic" font-size="21.4" stroke="#000" stroke-width="0.45">4.07</text>
<text transform="translate(535.80 51.80) scale(0.8274 1)" font-family="Liberation Sans" font-weight="bold" font-style="italic" font-size="21.4" stroke="#000" stroke-width="0.45">m</text>
<text transform="translate(557.10 51.80) scale(0.8348 1)" font-family="Liberation Sans" font-weight="bold" font-style="italic" font-size="21.4" stroke="#000" stroke-width="0.45">s</text>
<text transform="translate(567.38 42.30) scale(0.8429 1)" font-family="Liberation Sans" font-weight="bold" font-style="italic" font-size="13" stroke="#000" stroke-width="0.45">−</text>
<text transform="translate(574.80 41.90) scale(0.6074 1)" font-family="Liberation Sans" font-weight="bold" font-style="italic" font-size="13" stroke="#000" stroke-width="0.45">1</text>
<text transform="translate(459.70 73.00) scale(0.8091 1)" font-family="Liberation Sans" font-weight="bold" font-style="italic" font-size="21.4" stroke="#000" stroke-width="0.45">e</text>
<text transform="translate(491.04 73.00) scale(0.8780 1)" font-family="Liberation Sans" font-weight="bold" font-style="italic" font-size="21.4" stroke="#000" stroke-width="0.45">0.30</text>
<text transform="translate(102.80 351.70) scale(0.8148 1)" font-family="Liberation Sans" font-weight="bold" font-style="italic" font-size="21.4" stroke="#000" stroke-width="0.45">RMS</text>
<text transform="translate(162.51 351.70) scale(0.8188 1)" font-family="Liberation Sans" font-weight="bold" font-style="italic" font-size="21.4" stroke="#000" stroke-width="0.45">2.06</text>
<text transform="translate(202.20 351.70) scale(0.7507 1)" font-family="Liberation Sans" font-weight="bold" font-style="italic" font-size="21.4" stroke="#000" stroke-width="0.45">m</text>
<text transform="translate(222.20 351.70) scale(0.7913 1)" font-family="Liberation Sans" font-weight="bold" font-style="italic" font-size="21.4" stroke="#000" stroke-width="0.45">s</text>
<text transform="translate(231.57 342.40) scale(0.8571 1)" font-family="Liberation Sans" font-weight="bold" font-style="italic" font-size="13" stroke="#000" stroke-width="0.45">−</text>
<text transform="translate(238.90 342.00) scale(0.5778 1)" font-family="Liberation Sans" font-weight="bold" font-style="italic" font-size="13" stroke="#000" stroke-width="0.45">1</text>
<text transform="translate(496.50 352.10) scale(0.7719 1)" font-family="Liberation Sans" font-weight="bold" font-style="italic" font-size="21.4" stroke="#000" stroke-width="0.45">1.17</text>
<text transform="translate(52.90 70.00) scale(0.7765 1)" font-family="Liberation Sans" font-weight="bold" font-style="italic" font-size="22.9" stroke="#000" stroke-width="0.45">10</text>
<text transform="translate(62.50 143.00) scale(0.8151 1)" font-family="Liberation Sans" font-weight="bold" font-style="italic" font-size="22.9" stroke="#000" stroke-width="0.45">5</text>
<text transform="translate(62.44 214.40) scale(0.8750 1)" font-family="Liberation Sans" font-weight="bold" font-style="italic" font-size="22.9" stroke="#000" stroke-width="0.45">0</text>
<text transform="translate(49.73 286.00) scale(0.8594 1)" font-family="Liberation Sans" font-weight="bold" font-style="italic" font-size="22.9" stroke="#000" stroke-width="0.45">−5</text>
<text transform="translate(38.45 358.20) scale(0.8400 1)" font-family="Liberation Sans" font-weight="bold" font-style="italic" font-size="22.9" stroke="#000" stroke-width="0.45">−10</text>
<text transform="translate(165.45 394.40) scale(0.8677 1)" font-family="Liberation Sans" font-weight="bold" font-style="italic" font-size="22.9" stroke="#000" stroke-width="0.45">0.0</text>
<text transform="translate(324.66 394.40) scale(0.8571 1)" font-family="Liberation Sans" font-weight="bold" font-style="italic" font-size="22.9" stroke="#000" stroke-width="0.45">0.5</text>
<text transform="translate(486.70 394.40) scale(0.7748 1)" font-family="Liberation Sans" font-weight="bold" font-style="italic" font-size="22.9" stroke="#000" stroke-width="0.45">1.0</text>
<text transform="translate(279.40 425.20) scale(0.7974 1)" font-family="Liberation Sans" font-weight="bold" font-style="italic" font-size="23.7" stroke="#000" stroke-width="0.45">Orbital</text>
<text transform="translate(346.80 425.20) scale(0.7855 1)" font-family="Liberation Sans" font-weight="bold" font-style="italic" font-size="23.7" stroke="#000" stroke-width="0.45">Phase</text>
<text transform="translate(23.30 251.43) rotate(-90) scale(0.8168 1)" font-family="Liberation Sans" font-weight="bold" font-style="italic" font-size="23.7" stroke="#000" stroke-width="0.45">Velocity</text>
<text transform="translate(23.30 167.74) rotate(-90) scale(0.7179 1)" font-family="Liberation Sans" font-weight="bold" font-style="italic" font-size="23.7" stroke="#000" stroke-width="0.45">(</text>
<text transform="translate(23.30 158.96) rotate(-90) scale(0.6550 1)" font-family="Liberation Sans" font-weight="bold" font-style="italic" font-size="23.7" stroke="#000" stroke-width="0.45">m</text>
<text transform="translate(23.30 139.40) rotate(-90) scale(0.6960 1)" font-family="Liberation Sans" font-weight="bold" font-style="italic" font-size="23.7" stroke="#000" stroke-width="0.45">s</text>
<text transform="translate(12.70 129.66) rotate(-90) scale(0.8828 1)" font-family="Liberation Sans" font-weight="bold" font-style="italic" font-size="14" stroke="#000" stroke-width="0.45">−</text>
<text transform="translate(12.20 121.50) rotate(-90) scale(0.5655 1)" font-family="Liberation Sans" font-weight="bold" font-style="italic" font-size="14" stroke="#000" stroke-width="0.45">1</text>
<text transform="translate(23.30 115.21) rotate(-90) scale(0.7077 1)" font-family="Liberation Sans" font-weight="bold" font-style="italic" font-size="23.7" stroke="#000" stroke-width="0.45">)</text>
</g>
<g fill="none" stroke="#000"><path d="M259.0,21.3 L257.0,29.0" stroke-width="2.3"/><path d="M256.2,21.7 L259.8,21.2" stroke-width="1.1"/><path d="M256.8,28.6 Q257.0,31.3 261.0,27.3" stroke-width="1.5"/><circle cx="259.7" cy="17.8" r="0.8" stroke-width="1.5"/></g>
<path d="M466.7,341.9 L468.5,342.3 L460.3,356.6 L458.4,356.3 Z" fill="#000"/>
<g fill="none" stroke="#000" stroke-linecap="round"><path d="M458.4,345.0 C458.7,342.9 460.1,341.9 461.4,342.5 C462.5,343.1 463.1,345.6 464.5,349.5 C465.6,352.6 466.3,355.8 467.6,355.7 C468.3,355.6 468.7,354.7 468.9,353.9" stroke-width="1.2"/><path d="M469.7,351.7 C470.3,350.6 471.3,350.7 471.6,351.9 L472.4,356.5" stroke-width="1.5"/><path d="M472.4,356.5 C473.7,355.0 475.2,353.1 475.3,351.3" stroke-width="1.1"/></g>
<g stroke="#000" stroke-linecap="round">
<line x1="147.15" y1="22.70" x2="152.75" y2="22.70" stroke-width="2.50"/>
<line x1="146.54" y1="27.15" x2="151.76" y2="27.15" stroke-width="2.88"/>
<line x1="479.45" y1="22.10" x2="486.55" y2="22.10" stroke-width="2.50"/>
<line x1="478.51" y1="26.95" x2="485.49" y2="26.95" stroke-width="2.63"/>
<line x1="480.45" y1="44.10" x2="487.55" y2="44.10" stroke-width="2.50"/>
<line x1="479.68" y1="49.20" x2="486.62" y2="49.20" stroke-width="2.75"/>
<line x1="477.45" y1="65.90" x2="484.65" y2="65.90" stroke-width="2.50"/>
<line x1="476.84" y1="71.05" x2="483.36" y2="71.05" stroke-width="2.87"/>
<line x1="149.31" y1="344.55" x2="155.49" y2="344.55" stroke-width="2.63"/>
<line x1="148.41" y1="349.15" x2="154.79" y2="349.15" stroke-width="2.62"/>
<line x1="484.14" y1="344.75" x2="489.86" y2="344.75" stroke-width="2.87"/>
<line x1="483.44" y1="349.15" x2="488.86" y2="349.15" stroke-width="2.88"/>
</g>
</svg></body></html>
